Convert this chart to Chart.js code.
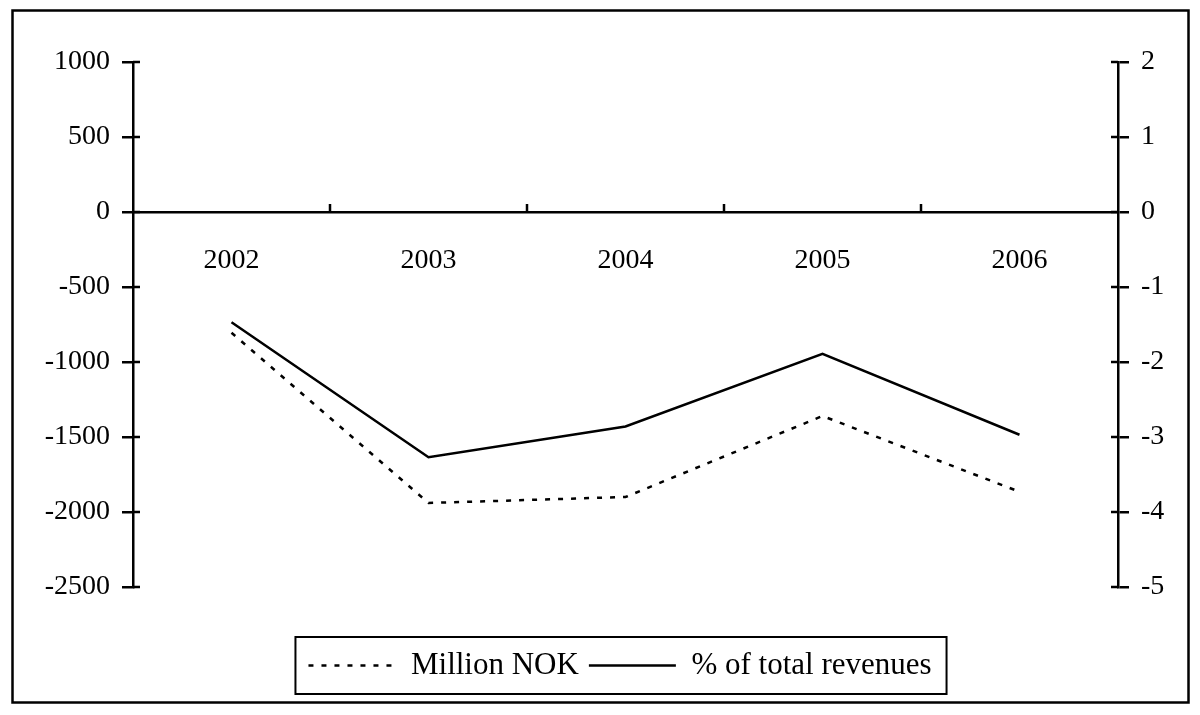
<!DOCTYPE html>
<html>
<head>
<meta charset="utf-8">
<script src="https://cdn.jsdelivr.net/npm/chart.js@4/dist/chart.umd.min.js"></script>
<style>
  html, body { margin: 0; padding: 0; background: #fff; }
  #wrap { width: 1200px; height: 715px; position: relative; }
</style>
</head>
<body>
<div id="wrap"><canvas id="c" width="1200" height="715"></canvas></div>
<script>
// ---- data ----
const years = ['2002', '2003', '2004', '2005', '2006'];
const millionNOK = [-805, -1940, -1900, -1360, -1865];
const pctRevenues = [-1.47, -3.27, -2.86, -1.89, -2.97];
const leftTickLabels = [-2500, -2000, -1500, -1000, -500, 0, 500, 1000];
const rightTickLabels = [-5, -4, -3, -2, -1, 0, 1, 2];
const seriesNames = ['Million NOK', '% of total revenues'];

const FONT = 'Liberation Serif, Times New Roman, serif';
const LW = 2.5;

const framePlugin = {
  id: 'frame',
  beforeDraw(chart) {
    const ctx = chart.ctx;
    ctx.save();
    ctx.fillStyle = '#fff';
    ctx.fillRect(0, 0, chart.width, chart.height);
    ctx.strokeStyle = '#000';
    ctx.lineWidth = 2.5;
    ctx.strokeRect(12.5, 10.5, 1176, 692);
    ctx.restore();
  },
  afterDraw(chart) {
    const ctx = chart.ctx;
    const ca = chart.chartArea;
    const yL = chart.scales.y, yR = chart.scales.y1, xs = chart.scales.x;
    ctx.save();
    ctx.strokeStyle = '#000';
    ctx.lineWidth = LW;
    ctx.setLineDash([]);
    ctx.beginPath();
    leftTickLabels.forEach(v => {
      const py = yL.getPixelForValue(v);
      ctx.moveTo(ca.left, py); ctx.lineTo(ca.left + 7, py);
    });
    rightTickLabels.forEach(v => {
      const py = yR.getPixelForValue(v);
      ctx.moveTo(ca.right - 7, py); ctx.lineTo(ca.right, py);
    });
    const y0 = yL.getPixelForValue(0);
    for (let i = 1; i < years.length; i++) {
      const px = (xs.getPixelForValue(i - 1) + xs.getPixelForValue(i)) / 2;
      ctx.moveTo(px, y0); ctx.lineTo(px, y0 - 8);
    }
    ctx.stroke();
    // legend frame
    const hb = chart.legend.legendHitBoxes;
    if (hb && hb.length) {
      const l = hb[0].left - 13;
      const r = hb[hb.length - 1].left + hb[hb.length - 1].width + 15;
      const t = hb[0].top - 13;
      const b = hb[0].top + hb[0].height + 13;
      ctx.lineWidth = 2;
      ctx.strokeRect(l, t, r - l, b - t);
    }
    ctx.restore();
  }
};

new Chart(document.getElementById('c'), {
  type: 'line',
  data: {
    labels: years,
    datasets: [
      {
        label: seriesNames[0],
        data: millionNOK,
        yAxisID: 'y',
        borderColor: '#000',
        backgroundColor: '#000',
        borderWidth: LW,
        borderDash: [5, 8],
        pointRadius: 0,
        tension: 0,
        fill: false
      },
      {
        label: seriesNames[1],
        data: pctRevenues,
        yAxisID: 'y1',
        borderColor: '#000',
        backgroundColor: '#000',
        borderWidth: LW,
        pointRadius: 0,
        tension: 0,
        fill: false
      }
    ]
  },
  options: {
    responsive: false,
    animation: false,
    devicePixelRatio: 1,
    layout: { padding: { left: 40, right: 0, top: 62, bottom: 24 } },
    plugins: {
      tooltip: { enabled: false },
      legend: {
        position: 'bottom',
        title: { display: true, text: ' ', font: { family: FONT, size: 13, lineHeight: 1 }, padding: { top: 40, bottom: 0 } },
        labels: {
          usePointStyle: false,
          boxWidth: 87,
          boxHeight: 0,
          color: '#000',
          padding: 10,
          font: { family: FONT, size: 31 }
        }
      }
    },
    scales: {
      x: {
        type: 'category',
        position: { y: 0 },
        offset: true,
        grid: { display: false, drawTicks: false },
        border: { display: true, color: '#000', width: LW },
        ticks: { color: '#000', font: { family: FONT, size: 28 }, padding: 32, maxRotation: 0 }
      },
      y: {
        position: 'left',
        min: -2500, max: 1000,
        afterBuildTicks: s => { s.ticks = leftTickLabels.map(v => ({ value: v })); },
        afterFit: s => { s.width = 93; },
        grid: { drawOnChartArea: false, drawTicks: true, tickLength: 11, color: '#000', lineWidth: LW },
        border: { display: true, color: '#000', width: LW },
        ticks: { color: '#000', font: { family: FONT, size: 28 }, padding: 12, callback: v => String(v) }
      },
      y1: {
        position: 'right',
        min: -5, max: 2,
        afterBuildTicks: s => { s.ticks = rightTickLabels.map(v => ({ value: v })); },
        afterFit: s => { s.width = 82; },
        grid: { drawOnChartArea: false, drawTicks: true, tickLength: 11, color: '#000', lineWidth: LW },
        border: { display: true, color: '#000', width: LW },
        ticks: { color: '#000', font: { family: FONT, size: 28 }, padding: 12, callback: v => String(v) }
      }
    }
  },
  plugins: [framePlugin]
});
</script>
</body>
</html>
